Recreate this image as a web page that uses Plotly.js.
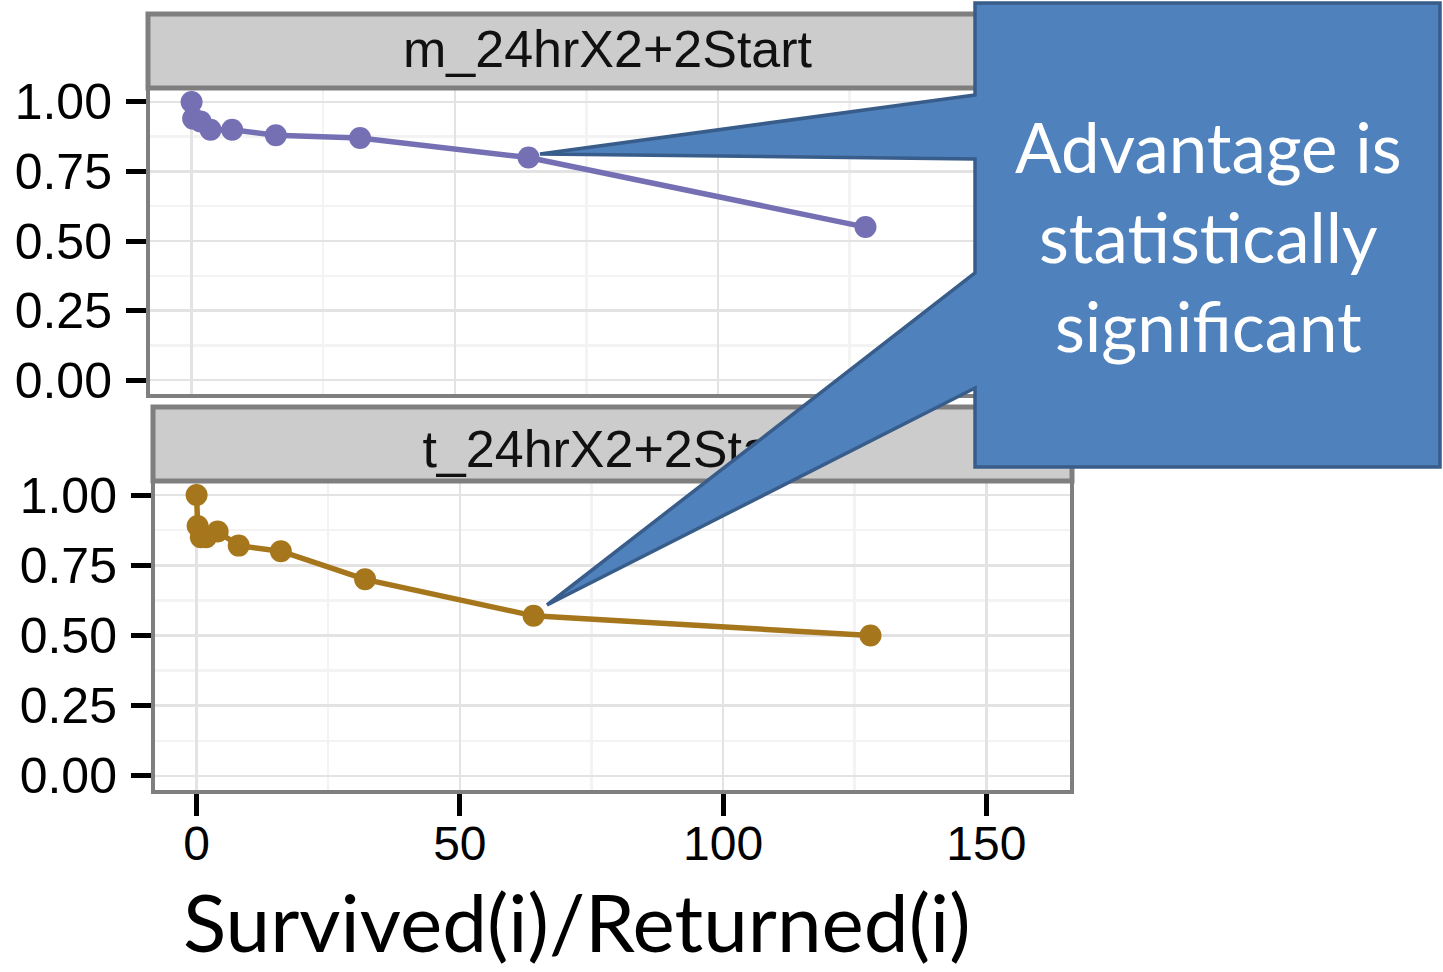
<!DOCTYPE html>
<html>
<head>
<meta charset="utf-8">
<script src="https://cdn.plot.ly/plotly-3.0.1.min.js"></script>
<style>html,body{margin:0;padding:0;background:#fff;}#chart{width:1443px;height:972px;}</style>
</head>
<body>
<div id="chart"></div>
<script>
// ---- data ----
var panelLabels = ["m_24hrX2+2Start", "t_24hrX2+2Start"];
var xTop = [0, 0.3, 1.7, 3.6, 7.7, 16, 32, 64, 128];
var yTop = [1.00, 0.94, 0.93, 0.90, 0.90, 0.88, 0.87, 0.80, 0.55];
var xBottom = [0, 0.2, 0.8, 1.8, 4, 8, 16, 32, 64, 128];
var yBottom = [1.00, 0.89, 0.85, 0.85, 0.87, 0.82, 0.80, 0.70, 0.57, 0.50];
var xTickVals = [0, 50, 100, 150];
var xTickText = ["0", "50", "100", "150"];
var yTickVals = [0, 0.25, 0.5, 0.75, 1];
var yTickText = ["0.00", "0.25", "0.50", "0.75", "1.00"];
var xTitle = "Survived(i)/Returned(i)";
var calloutText = "Advantage is<br>statistically<br>significant";

// ---- layout helpers (pixel -> paper) ----
var W = 1443, H = 972;
function px(x){ return x / W; }
function py(y){ return 1 - y / H; }

var armFont = "Liberation Sans, Arial, Helvetica, sans-serif";
var slideFont = "Lato, Carlito, Calibri, 'Open Sans', sans-serif";
var purple = "#7570B3", gold = "#A6761D";
var borderCol = "#7F7F7F";

var traces = [
  {x: xTop, y: yTop, xaxis: "x", yaxis: "y", mode: "lines+markers", type: "scatter",
   line: {color: purple, width: 5.5}, marker: {color: purple, size: 22}, hoverinfo: "skip"},
  {x: xBottom, y: yBottom, xaxis: "x2", yaxis: "y2", mode: "lines+markers", type: "scatter",
   line: {color: gold, width: 5.5}, marker: {color: gold, size: 22}, hoverinfo: "skip"}
];

function xAxis(dom, showLabels, anchor){
  return {
    domain: dom, range: [-7.9, 165.9], anchor: anchor, zeroline: false,
    showline: true, mirror: true, linecolor: borderCol, linewidth: 4,
    showgrid: true, gridcolor: "#E3E3E3", gridwidth: 2.5,
    minor: {dtick: 25, tick0: 0, showgrid: true, gridcolor: "#F3F3F3", gridwidth: 2.5},
    tickmode: "array", tickvals: xTickVals, ticktext: xTickText,
    ticks: showLabels ? "outside" : "", ticklen: 22, tickwidth: 5, tickcolor: "#000",
    showticklabels: showLabels, ticklabelstandoff: -14,
    tickfont: {family: armFont, size: 48, color: "#000"}
  };
}
function yAxis(dom, anchor){
  return {
    domain: dom, range: [-0.05, 1.05], anchor: anchor, zeroline: false,
    showline: true, mirror: true, linecolor: borderCol, linewidth: 4,
    showgrid: true, gridcolor: "#E3E3E3", gridwidth: 2.5,
    minor: {dtick: 0.125, tick0: 0, showgrid: true, gridcolor: "#F3F3F3", gridwidth: 2.5},
    tickmode: "array", tickvals: yTickVals, ticktext: yTickText,
    ticks: "outside", ticklen: 20, tickwidth: 5, tickcolor: "#000",
    ticklabelstandoff: 4,
    tickfont: {family: armFont, size: 50, color: "#000"}
  };
}

var calloutPath = "M" + [
  [975,3],[1440,3],[1440,467],[975,467],[975,388],[547,605],[975,273],[975,159],[540,154],[975,95]
].map(function(p){ return px(p[0]) + "," + py(p[1]); }).join(" L") + " Z";

var layout = {
  width: W, height: H,
  margin: {l: 0, r: 0, t: 0, b: 0},
  paper_bgcolor: "#fff", plot_bgcolor: "#fff",
  showlegend: false,
  xaxis: xAxis([px(150), px(1065)], false, "y"),
  yaxis: yAxis([py(394), py(88)], "x"),
  xaxis2: xAxis([px(155), px(1070)], true, "y2"),
  yaxis2: yAxis([py(790), py(481)], "x2"),
  shapes: [
    {type: "rect", xref: "paper", yref: "paper", layer: "above",
     x0: px(148), x1: px(1067), y0: py(88), y1: py(14),
     fillcolor: "#CCCCCC", line: {color: borderCol, width: 5}},
    {type: "rect", xref: "paper", yref: "paper", layer: "above",
     x0: px(153), x1: px(1072), y0: py(481), y1: py(407),
     fillcolor: "#CCCCCC", line: {color: borderCol, width: 5},
     label: {text: panelLabels[1], textposition: "middle center",
             font: {family: armFont, size: 52, color: "#111"}}},
    {type: "path", xref: "paper", yref: "paper", layer: "above",
     path: calloutPath, fillcolor: "#4F81BD", line: {color: "#385D8A", width: 3.5}}
  ],
  annotations: [
    {xref: "paper", yref: "paper", x: px(608), y: py(49), xanchor: "center", yanchor: "middle",
     text: panelLabels[0], showarrow: false,
     font: {family: armFont, size: 52, color: "#111"}},
    {xref: "paper", yref: "paper", x: px(1208), y: py(236), xanchor: "center", yanchor: "middle",
     text: calloutText, showarrow: false, align: "center",
     font: {family: slideFont, size: 69, color: "#fff"}},
    {xref: "paper", yref: "paper", x: px(577), y: py(921), xanchor: "center", yanchor: "middle",
     text: xTitle, showarrow: false,
     font: {family: slideFont, size: 80, color: "#000"}}
  ]
};

Plotly.newPlot("chart", traces, layout, {displayModeBar: false, staticPlot: true});
</script>
</body>
</html>
